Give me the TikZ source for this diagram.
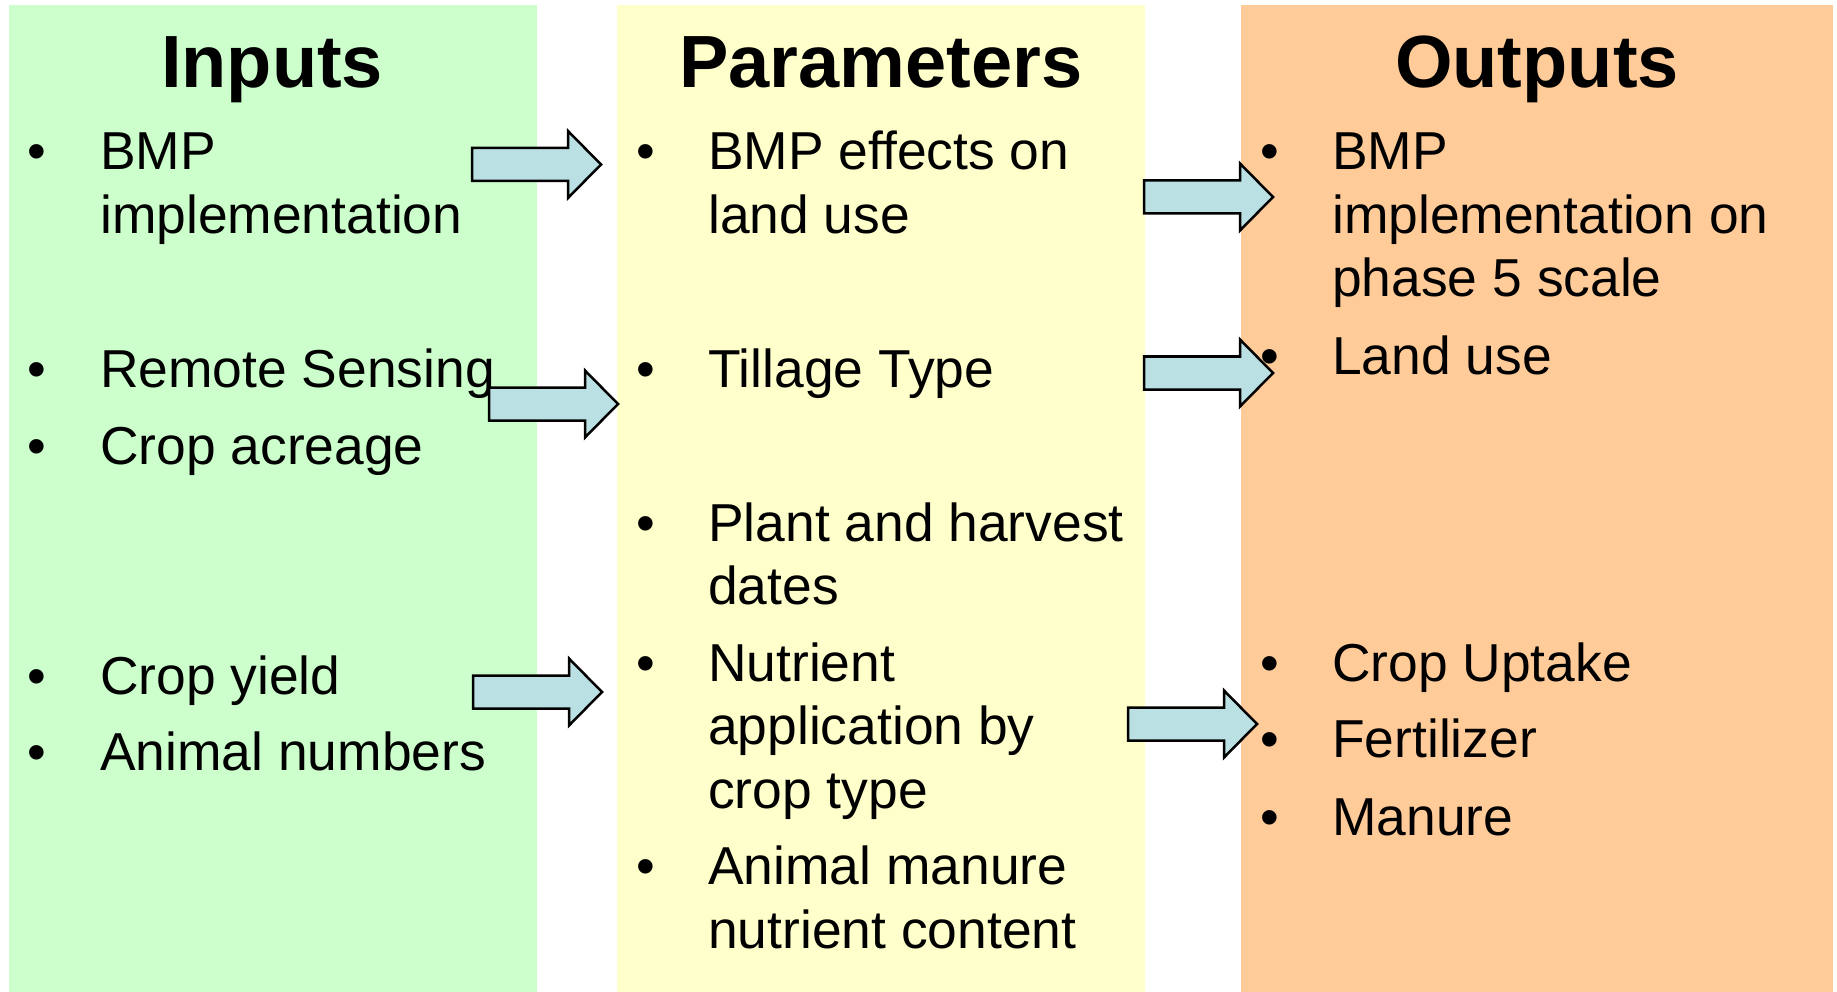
\documentclass[tikz,border=0pt]{standalone}
\usepackage{fontspec}
\setmainfont{Liberation Sans}
\definecolor{ingreen}{HTML}{CCFFCC}
\definecolor{paryellow}{HTML}{FFFFCC}
\definecolor{outorange}{HTML}{FFCC99}
\definecolor{arrowblue}{HTML}{BBE0E3}
\tikzset{
  head/.style={anchor=base, inner sep=0pt, font=\fontsize{74}{88}\selectfont\bfseries},
  item/.style={anchor=base west, inner sep=0pt, font=\fontsize{53.4}{63.5}\selectfont},
  bul/.style={anchor=base, inner sep=0pt, font=\fontsize{53.4}{63.5}\selectfont},
  arrowshape/.style={draw=black, fill=arrowblue, line width=2.5pt, line join=miter},
  blockarrow/.pic={\draw[arrowshape] (0,-16.5) -- (96,-16.5) -- (96,-33.5) -- (129,0) -- (96,33.5) -- (96,16.5) -- (0,16.5) -- cycle;}
}
\begin{document}
\begin{tikzpicture}[x=1pt,y=-1pt]
\useasboundingbox (0,0) rectangle (1837,992);
% panels
\fill[ingreen] (9,5) rectangle (537,992);
\fill[paryellow] (617,5) rectangle (1145,992);
\fill[outorange] (1241,5) rectangle (1833,992);
% headings
\node[head] (hin) at (272,88) {Inputs};
\node[head] (hpar) at (881,88) {Parameters};
\node[head] (hout) at (1537,88) {Outputs};
% inputs
\foreach \y/\n in {170/b1,387/b2,464/b3,694/b4,770/b5}{\node[bul] (in\n) at (37,\y) {•};}
\node[item] (i1a) at (100,170) {BMP};
\node[item] (i1b) at (100,233.5) {implementation};
\node[item] (i2) at (100,387) {Remote Sensing};
\node[item] (i3) at (100,464) {Crop acreage};
\node[item] (i4) at (100,694) {Crop yield};
\node[item] (i5) at (100,770) {Animal numbers};
% parameters
\foreach \y/\n in {170/b1,387/b2,541/b3,681/b4,884.5/b5}{\node[bul] (par\n) at (646,\y) {•};}
\node[item] (p1a) at (708,170) {BMP effects on};
\node[item] (p1b) at (708,233.5) {land use};
\node[item] (p2) at (708,387) {Tillage Type};
\node[item] (p3a) at (708,541) {Plant and harvest};
\node[item] (p3b) at (708,604.5) {dates};
\node[item] (p4a) at (708,681) {Nutrient};
\node[item] (p4b) at (708,744.5) {application by};
\node[item] (p4c) at (708,808) {crop type};
\node[item] (p5a) at (708,884.5) {Animal manure};
\node[item] (p5b) at (708,948) {nutrient content};
% outputs
\foreach \y/\n in {170/b1,374/b2,681/b3,757/b4,835/b5}{\node[bul] (out\n) at (1270,\y) {•};}
\node[item] (o1a) at (1332,170) {BMP};
\node[item] (o1b) at (1332,233.5) {implementation on};
\node[item] (o1c) at (1332,297) {phase 5 scale};
\node[item] (o2) at (1332,374) {Land use};
\node[item] (o3) at (1332,681) {Crop Uptake};
\node[item] (o4) at (1332,757) {Fertilizer};
\node[item] (o5) at (1332,835) {Manure};
% block arrows
\pic at (472,164.5) {blockarrow};
\pic at (489,404) {blockarrow};
\pic at (473,692) {blockarrow};
\pic at (1144,197) {blockarrow};
\pic at (1144,373) {blockarrow};
\pic at (1128,724) {blockarrow};
\end{tikzpicture}
\end{document}
